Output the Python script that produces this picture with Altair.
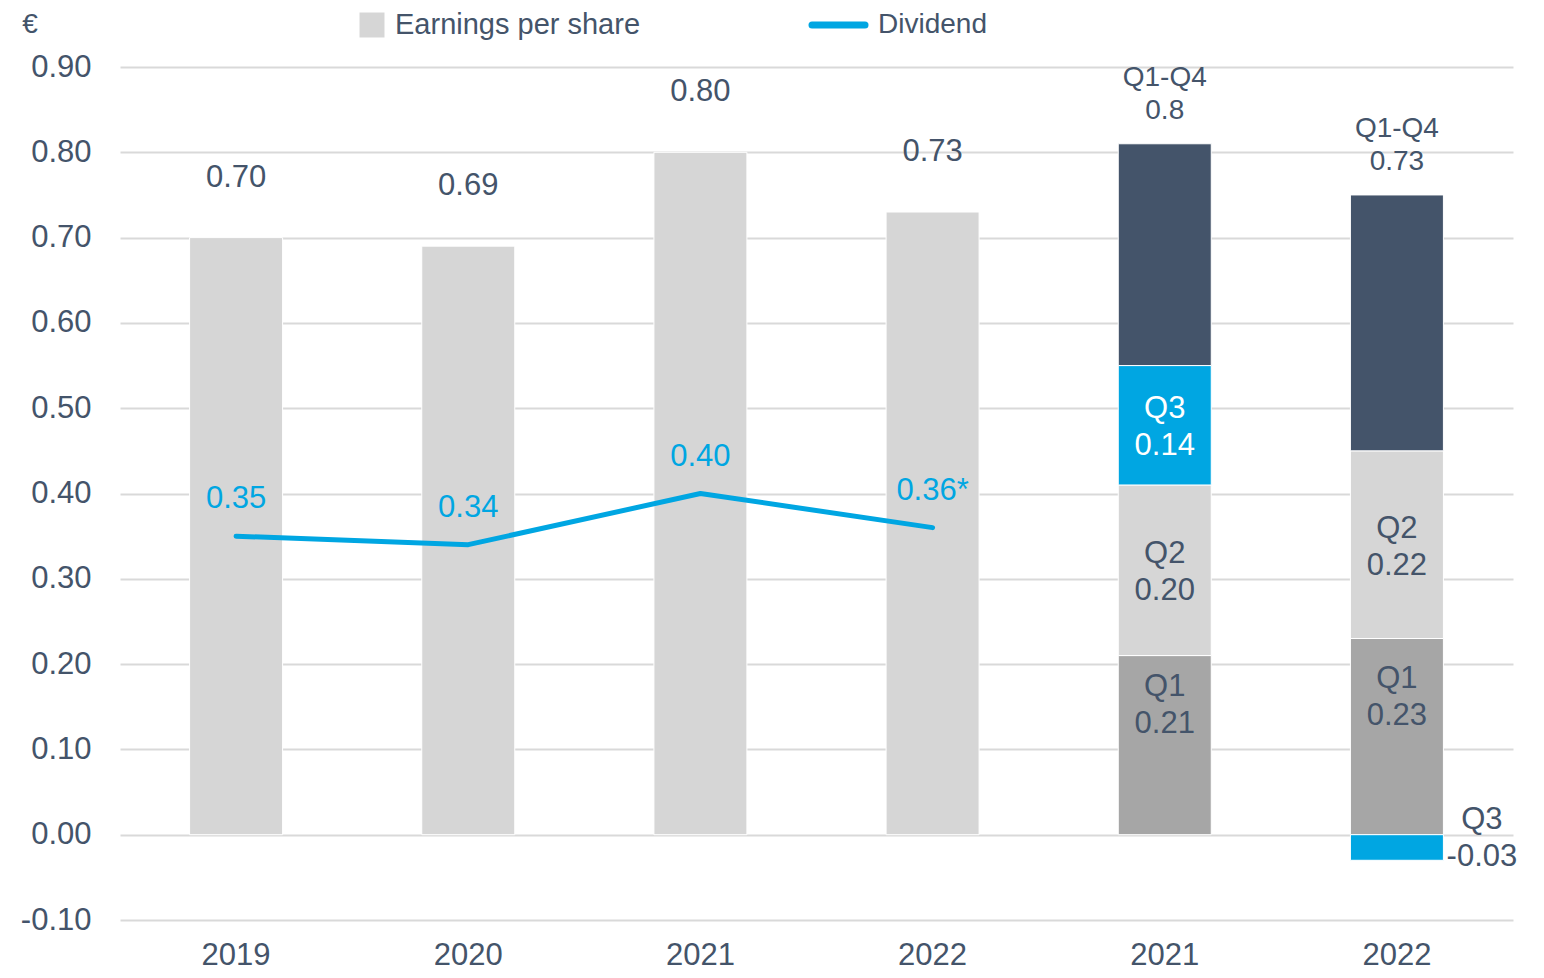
import altair as alt
import pandas as pd

# ---------------- data ----------------
years = ["2019", "2020", "2021", "2022"]
eps = [0.70, 0.69, 0.80, 0.73]
eps_labels = ["0.70", "0.69", "0.80", "0.73"]
dividend = [0.35, 0.34, 0.40, 0.36]
dividend_labels = ["0.35", "0.34", "0.40", "0.36*"]

quarter_cats = ["2021 Q", "2022 Q"]
quarters = ["Q1", "Q2", "Q3", "Q4"]
q_2021 = [0.21, 0.20, 0.14, 0.26]
q_2022 = [0.23, 0.22, -0.03, 0.30]
total_labels = ["0.8", "0.73"]

y_ticks = [-0.10, 0.00, 0.10, 0.20, 0.30, 0.40, 0.50, 0.60, 0.70, 0.80, 0.90]
x_order = years + quarter_cats

# ---------------- styles ----------------
TXT = "#44546a"
BLUE = "#00a6e2"
LIGHT = "#d6d6d6"
FONT = "Liberation Sans"
q_colors = ["#a6a6a6", "#d6d6d6", "#00a6e2", "#44546a"]

df_year = pd.DataFrame({"cat": years, "eps": eps, "eps_label": eps_labels,
                        "div": dividend, "div_label": dividend_labels})

rows = []
for cat, vals in zip(quarter_cats, [q_2021, q_2022]):
    for i, (q, v) in enumerate(zip(quarters, vals)):
        rows.append({"cat": cat, "q": q, "value": v, "order": i,
                     "label": f"{q}\n{v:.2f}"})
df_q = pd.DataFrame(rows)

df_tot = pd.DataFrame({
    "cat": quarter_cats,
    "top": [sum(v for v in q_2021 if v > 0), sum(v for v in q_2022 if v > 0)],
    "label": [f"Q1-Q4\n{t}" for t in total_labels],
})

x_enc = alt.X(
    "cat:N",
    sort=x_order,
    scale=alt.Scale(domain=x_order, paddingInner=0, paddingOuter=0),
    axis=alt.Axis(
        title=None, labelExpr="slice(datum.label, 0, 4)", labelAngle=0,
        ticks=False, tickSize=0, domain=False, grid=False,
        labelFont=FONT, labelFontSize=31, labelColor=TXT, labelPadding=20,
    ),
)
y_scale = alt.Scale(domain=[-0.10, 0.90], nice=False, zero=False)
y_axis = alt.Axis(
    title=None, values=y_ticks, format=".2f", labelExpr="replace(datum.label, '\u2212', '-')",
    ticks=False, tickSize=0,
    domain=False, grid=True, gridColor="#d9d9d9", gridWidth=2,
    labelFont=FONT, labelFontSize=31, labelColor=TXT, labelPadding=29,
)

base_year = alt.Chart(df_year)

bars_year = base_year.mark_bar(size=93, color=LIGHT, stroke="white", strokeWidth=1).encode(
    x=x_enc, y=alt.Y("eps:Q", scale=y_scale, axis=y_axis)
)
eps_text = base_year.mark_text(font=FONT, fontSize=31, color=TXT, baseline="middle", dy=-60).encode(
    x="cat:N", y="eps:Q", text="eps_label:N"
)
div_line = base_year.mark_line(color=BLUE, strokeWidth=5, strokeCap="round", strokeJoin="round").encode(
    x="cat:N", y="div:Q"
)
div_text = base_year.mark_text(font=FONT, fontSize=31, color=BLUE, baseline="middle", dy=-37).encode(
    x="cat:N", y="div:Q", text="div_label:N"
)

stacked = alt.Chart(df_q).transform_stack(
    stack="value", groupby=["cat"], as_=["y0", "y1"], sort=[alt.SortField("order")]
).transform_calculate(mid="(datum.y0 + datum.y1) / 2")

bars_q = stacked.mark_bar(size=93, stroke="white", strokeWidth=1).encode(
    x="cat:N", y="y0:Q", y2="y1:Q",
    color=alt.Color("q:N", scale=alt.Scale(domain=quarters, range=q_colors), legend=None),
)

def seg_text(filter_expr, color, dx=0, dy=0):
    return stacked.transform_filter(filter_expr).mark_text(
        font=FONT, fontSize=31, color=color, baseline="middle", lineBreak="\n",
        lineHeight=37, dx=dx, dy=dy,
    ).encode(x="cat:N", y="mid:Q", text="label:N")

t_q1 = seg_text("datum.q == 'Q1'", TXT, dy=-58)
t_q2 = seg_text("datum.q == 'Q2'", TXT, dy=-16)
t_q3p = seg_text("datum.q == 'Q3' && datum.value > 0", "white", dy=-16)
t_q3n = seg_text("datum.q == 'Q3' && datum.value < 0", TXT, dx=85, dy=-27)

tot_text = alt.Chart(df_tot).mark_text(
    font=FONT, fontSize=28, color=TXT, baseline="middle", lineBreak="\n", lineHeight=33, dy=-66
).encode(x="cat:N", y="top:Q", text="label:N")

# ---------------- legend & unit ----------------
one = pd.DataFrame({"k": [0]})
unit = alt.Chart(one).mark_text(font=FONT, fontSize=28, color=TXT, align="center", baseline="middle", text="€").encode(
    x=alt.value(-90), y=alt.value(-42)
)
leg_sq = alt.Chart(one).mark_square(size=625, color=LIGHT, opacity=1).encode(
    x=alt.value(252), y=alt.value(-42)
)
leg_sq_t = alt.Chart(one).mark_text(font=FONT, fontSize=29, color=TXT, align="left", baseline="middle",
                                     text="Earnings per share").encode(x=alt.value(275), y=alt.value(-42))
leg_ln = alt.Chart(one).mark_rule(color=BLUE, strokeWidth=7, strokeCap="round").encode(
    x=alt.value(692), x2=alt.value(745), y=alt.value(-42)
)
leg_ln_t = alt.Chart(one).mark_text(font=FONT, fontSize=28, color=TXT, align="left", baseline="middle",
                                     text="Dividend").encode(x=alt.value(758), y=alt.value(-42))

chart = alt.layer(
    bars_year, bars_q, div_line, eps_text, div_text, t_q1, t_q2, t_q3p, t_q3n, tot_text,
    unit, leg_sq, leg_sq_t, leg_ln, leg_ln_t,
).properties(
    width=1393, height=853,
    autosize=alt.AutoSizeParams(type="none"),
    padding={"left": 112, "top": 59, "right": 23, "bottom": 50},
).configure_view(stroke=None).configure_axis(labelFont=FONT)

chart.save("out.html", embed_options={"renderer": "svg", "actions": False})
